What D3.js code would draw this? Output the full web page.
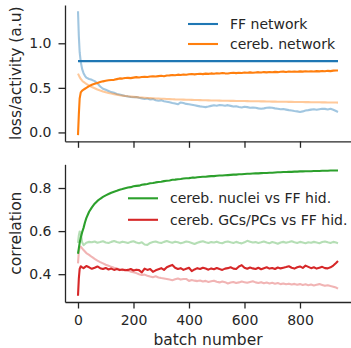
<!DOCTYPE html>
<html>
<head>
<meta charset="utf-8">
<script src="https://cdn.jsdelivr.net/npm/d3@7"></script>
<style>
  body { margin: 0; background: #fff; }
  svg { display: block; }
  text { font-family: "DejaVu Sans", sans-serif; fill: #262626; }
</style>
</head>
<body>
<svg id="chart" width="351" height="348"></svg>
<script>
// Training batches at which the curves were sampled
const batch = [
  0, 3, 6, 10, 15, 20, 25, 30,
  40, 50, 60, 70, 80, 90, 100, 110, 120, 130,
  140, 150, 160, 170, 180, 190, 200, 210, 220, 230,
  240, 250, 260, 270, 280, 290, 300, 310, 320, 330,
  340, 350, 360, 370, 380, 390, 400, 410, 420, 430,
  440, 450, 460, 470, 480, 490, 500, 510, 520, 530,
  540, 550, 560, 570, 580, 590, 600, 610, 620, 630,
  640, 650, 660, 670, 680, 690, 700, 710, 720, 730,
  740, 750, 760, 770, 780, 790, 800, 810, 820, 830,
  840, 850, 860, 870, 880, 890, 900, 910, 920, 930,
  937
];

// Loss / activity panel
const ffNetBatch = [0, 937];
const ffNet = [0.80, 0.80];

const ffLoss = [
  1.36, 1.08, 0.90, 0.79, 0.71, 0.665, 0.635, 0.615,
  0.600, 0.590, 0.575, 0.550, 0.515, 0.490, 0.478, 0.465, 0.452, 0.445,
  0.432, 0.425, 0.418, 0.408, 0.404, 0.398, 0.394, 0.398, 0.388, 0.382,
  0.376, 0.381, 0.370, 0.374, 0.362, 0.356, 0.360, 0.350, 0.344, 0.338,
  0.330, 0.324, 0.316, 0.336, 0.330, 0.320, 0.316, 0.310, 0.304, 0.298,
  0.292, 0.288, 0.284, 0.290, 0.298, 0.304, 0.300, 0.308, 0.304, 0.300,
  0.306, 0.298, 0.290, 0.294, 0.286, 0.280, 0.288, 0.284, 0.276, 0.280,
  0.276, 0.270, 0.266, 0.270, 0.276, 0.280, 0.276, 0.270, 0.266, 0.260,
  0.262, 0.256, 0.250, 0.246, 0.240, 0.236, 0.230, 0.236, 0.246, 0.250,
  0.256, 0.260, 0.254, 0.260, 0.266, 0.264, 0.258, 0.266, 0.254, 0.240,
  0.230
];

const cbLoss = [
  0.660, 0.640, 0.620, 0.600, 0.580, 0.566, 0.555, 0.545,
  0.526, 0.510, 0.496, 0.482, 0.470, 0.460, 0.451, 0.443, 0.436, 0.430,
  0.424, 0.418, 0.413, 0.409, 0.405, 0.402, 0.399, 0.396, 0.393, 0.391,
  0.389, 0.387, 0.385, 0.383, 0.381, 0.380, 0.378, 0.377, 0.375, 0.374,
  0.373, 0.371, 0.370, 0.369, 0.368, 0.367, 0.366, 0.365, 0.364, 0.363,
  0.362, 0.361, 0.361, 0.360, 0.359, 0.358, 0.358, 0.357, 0.356, 0.356,
  0.355, 0.354, 0.354, 0.353, 0.353, 0.352, 0.352, 0.351, 0.350, 0.350,
  0.349, 0.349, 0.348, 0.348, 0.347, 0.347, 0.346, 0.346, 0.345, 0.345,
  0.344, 0.344, 0.343, 0.343, 0.342, 0.342, 0.341, 0.341, 0.340, 0.340,
  0.339, 0.339, 0.338, 0.338, 0.337, 0.337, 0.336, 0.336, 0.335, 0.335,
  0.334
];

const cbNet = [
  -0.030, 0.200, 0.380, 0.450, 0.470, 0.480, 0.490, 0.500,
  0.520, 0.535, 0.545, 0.555, 0.565, 0.573, 0.580, 0.585, 0.588, 0.590,
  0.598, 0.606, 0.604, 0.610, 0.612, 0.609, 0.615, 0.620, 0.617, 0.621,
  0.625, 0.622, 0.628, 0.630, 0.627, 0.632, 0.635, 0.630, 0.638, 0.640,
  0.645, 0.642, 0.648, 0.645, 0.650, 0.647, 0.652, 0.655, 0.651, 0.656,
  0.658, 0.654, 0.660, 0.657, 0.662, 0.659, 0.664, 0.661, 0.666, 0.663,
  0.661, 0.667, 0.670, 0.665, 0.670, 0.667, 0.672, 0.669, 0.674, 0.670,
  0.673, 0.676, 0.672, 0.677, 0.674, 0.678, 0.675, 0.679, 0.676, 0.680,
  0.682, 0.678, 0.683, 0.680, 0.684, 0.681, 0.685, 0.682, 0.686, 0.683,
  0.687, 0.684, 0.688, 0.685, 0.690, 0.687, 0.691, 0.688, 0.693, 0.695,
  0.694
];

// Correlation panel
const nucCorr = [
  0.495, 0.520, 0.545, 0.570, 0.595, 0.615, 0.640, 0.660,
  0.690, 0.710, 0.727, 0.740, 0.750, 0.759, 0.766, 0.772, 0.778, 0.783,
  0.787, 0.792, 0.795, 0.799, 0.802, 0.804, 0.808, 0.810, 0.811, 0.815,
  0.817, 0.819, 0.822, 0.823, 0.826, 0.828, 0.829, 0.832, 0.834, 0.835,
  0.838, 0.839, 0.841, 0.842, 0.844, 0.845, 0.846, 0.848, 0.848, 0.850,
  0.851, 0.852, 0.852, 0.854, 0.855, 0.855, 0.857, 0.858, 0.858, 0.859,
  0.860, 0.861, 0.862, 0.862, 0.864, 0.864, 0.865, 0.866, 0.866, 0.867,
  0.868, 0.868, 0.869, 0.870, 0.870, 0.871, 0.871, 0.872, 0.873, 0.873,
  0.874, 0.874, 0.875, 0.875, 0.876, 0.876, 0.877, 0.877, 0.878, 0.878,
  0.878, 0.879, 0.879, 0.879, 0.880, 0.880, 0.880, 0.881, 0.881, 0.881,
  0.881
];

const nucBase = [
  0.545, 0.580, 0.598, 0.592, 0.548, 0.535, 0.540, 0.546,
  0.550, 0.548, 0.552, 0.546, 0.549, 0.553, 0.547, 0.545, 0.550, 0.554,
  0.549, 0.546, 0.551, 0.548, 0.545, 0.550, 0.553, 0.547, 0.544, 0.548,
  0.538, 0.536, 0.545, 0.549, 0.552, 0.547, 0.545, 0.550, 0.554, 0.549,
  0.546, 0.551, 0.548, 0.544, 0.547, 0.552, 0.549, 0.545, 0.540, 0.546,
  0.550, 0.553, 0.548, 0.545, 0.549, 0.547, 0.551, 0.546, 0.544, 0.549,
  0.552, 0.548, 0.545, 0.550, 0.546, 0.543, 0.548, 0.555, 0.551, 0.547,
  0.549, 0.545, 0.548, 0.552, 0.547, 0.544, 0.549, 0.546, 0.541, 0.547,
  0.550, 0.546, 0.549, 0.553, 0.548, 0.545, 0.550, 0.547, 0.544, 0.548,
  0.546, 0.550, 0.547, 0.544, 0.549, 0.552, 0.548, 0.545, 0.550, 0.547,
  0.544
];

const gcCorr = [
  0.300, 0.380, 0.425, 0.437, 0.432, 0.428, 0.433, 0.438,
  0.432, 0.425, 0.430, 0.436, 0.428, 0.424, 0.429, 0.422, 0.426, 0.420,
  0.424, 0.419, 0.422, 0.418, 0.420, 0.424, 0.417, 0.421, 0.419, 0.408,
  0.426, 0.420, 0.424, 0.411, 0.418, 0.423, 0.428, 0.420, 0.432, 0.438,
  0.443, 0.430, 0.424, 0.428, 0.420, 0.425, 0.430, 0.414, 0.422, 0.428,
  0.424, 0.430, 0.426, 0.421, 0.427, 0.423, 0.429, 0.424, 0.420, 0.426,
  0.428, 0.432, 0.426, 0.424, 0.436, 0.442, 0.430, 0.425, 0.431, 0.427,
  0.424, 0.430, 0.423, 0.428, 0.432, 0.426, 0.429, 0.424, 0.431, 0.427,
  0.430, 0.433, 0.437, 0.430, 0.426, 0.432, 0.436, 0.429, 0.440, 0.434,
  0.428, 0.432, 0.426, 0.430, 0.434, 0.428, 0.427, 0.432, 0.440, 0.452,
  0.461
];

const gcBase = [
  0.450, 0.505, 0.525, 0.528, 0.520, 0.512, 0.505, 0.498,
  0.490, 0.480, 0.471, 0.463, 0.456, 0.450, 0.444, 0.439, 0.434, 0.430,
  0.427, 0.422, 0.419, 0.421, 0.416, 0.412, 0.409, 0.405, 0.400, 0.396,
  0.398, 0.393, 0.389, 0.386, 0.390, 0.385, 0.382, 0.380, 0.378, 0.375,
  0.372, 0.376, 0.380, 0.375, 0.378, 0.378, 0.369, 0.373, 0.370, 0.368,
  0.371, 0.366, 0.369, 0.364, 0.367, 0.370, 0.365, 0.362, 0.366, 0.363,
  0.357, 0.361, 0.364, 0.359, 0.362, 0.366, 0.363, 0.360, 0.364, 0.367,
  0.362, 0.359, 0.363, 0.358, 0.361, 0.357, 0.360, 0.356, 0.359, 0.354,
  0.357, 0.353, 0.356, 0.352, 0.355, 0.351, 0.354, 0.350, 0.353, 0.349,
  0.352, 0.348, 0.351, 0.354, 0.350, 0.346, 0.349, 0.345, 0.342, 0.338,
  0.333
];

const xTicks = [0, 200, 400, 600, 800];
const lossTicks = [0.0, 0.5, 1.0];
const corrTicks = [0.4, 0.6, 0.8];

const C = {
  blue: "#1f77b4", orange: "#ff7f0e", green: "#2ca02c", red: "#d62728",
  ink: "#262626"
};

const svg = d3.select("#chart");
const left = 65, right = 351;
const tickLen = 6.5, tickPad = 7;

// matplotlib-style 5% margins around the data extent
function padded(ext) {
  const m = (ext[1] - ext[0]) * 0.05;
  return [ext[0] - m, ext[1] + m];
}

const x = d3.scaleLinear()
  .domain(padded(d3.extent(batch)))
  .range([left, right]);

function drawPanel(cfg) {
  const g = svg.append("g");
  const allVals = cfg.series.flatMap(s => s.values);
  const y = d3.scaleLinear()
    .domain(padded(d3.extent(allVals)))
    .range([cfg.bottom, cfg.top]);

  // Lines
  const line = d3.line().x(d => x(d[0])).y(d => y(d[1]));
  cfg.series.forEach(s => {
    const xs = s.batch || batch;
    g.append("path")
      .datum(xs.map((b, i) => [b, s.values[i]]))
      .attr("fill", "none")
      .attr("stroke", s.color)
      .attr("stroke-opacity", s.opacity || 1)
      .attr("stroke-width", 2.1)
      .attr("stroke-linejoin", "round")
      .attr("stroke-linecap", "butt")
      .attr("d", line);
  });

  // Axes (left and bottom spines only)
  const yAxis = d3.axisLeft(y).tickValues(cfg.yTicks).tickFormat(d3.format(".1f"))
    .tickSize(tickLen).tickSizeOuter(0).tickPadding(tickPad);
  const xAxis = d3.axisBottom(x).tickValues(xTicks).tickFormat(d3.format("d"))
    .tickSize(tickLen).tickSizeOuter(0).tickPadding(tickPad);

  const ya = g.append("g").attr("transform", `translate(${left},0)`).call(yAxis);
  const xa = g.append("g").attr("transform", `translate(0,${cfg.bottom})`).call(xAxis);
  [ya, xa].forEach(a => {
    a.select(".domain").attr("stroke", C.ink).attr("stroke-width", 1.3);
    a.selectAll(".tick line").attr("stroke", C.ink).attr("stroke-width", 1.3);
    a.selectAll(".tick text").attr("fill", C.ink).style("font-size", "14px")
      .style("font-family", '"DejaVu Sans", sans-serif');
  });
  if (!cfg.showXLabels) xa.selectAll(".tick text").remove();

  // Y label
  g.append("text")
    .attr("transform", `translate(21,${(cfg.top + cfg.bottom) / 2}) rotate(-90)`)
    .attr("text-anchor", "middle")
    .style("font-size", "15.5px")
    .text(cfg.yLabel);

  // Legend
  cfg.legend.items.forEach((it, i) => {
    const ly = cfg.legend.y + i * cfg.legend.step;
    g.append("line")
      .attr("x1", cfg.legend.x).attr("x2", cfg.legend.x + 30)
      .attr("y1", ly).attr("y2", ly)
      .attr("stroke", it.color).attr("stroke-width", 2.1);
    g.append("text")
      .attr("x", cfg.legend.x + 42).attr("y", ly).attr("dy", "0.36em")
      .style("font-size", "14px")
      .text(it.label);
  });
  return y;
}

drawPanel({
  top: 5, bottom: 141.3,
  yTicks: lossTicks, showXLabels: false,
  yLabel: "loss/activity (a.u)",
  series: [
    { values: ffLoss, color: C.blue, opacity: 0.42 },
    { values: cbLoss, color: C.orange, opacity: 0.42 },
    { values: ffNet, batch: ffNetBatch, color: C.blue },
    { values: cbNet, color: C.orange }
  ],
  legend: { x: 188, y: 24, step: 20, items: [
    { label: "FF network", color: C.blue },
    { label: "cereb. network", color: C.orange }
  ]}
});

drawPanel({
  top: 164.3, bottom: 302,
  yTicks: corrTicks, showXLabels: true,
  yLabel: "correlation",
  series: [
    { values: nucBase, color: C.green, opacity: 0.35 },
    { values: gcBase, color: C.red, opacity: 0.35 },
    { values: nucCorr, color: C.green },
    { values: gcCorr, color: C.red }
  ],
  legend: { x: 128, y: 198.3, step: 21.5, items: [
    { label: "cereb. nuclei vs FF hid.", color: C.green },
    { label: "cereb. GCs/PCs vs FF hid.", color: C.red }
  ]}
});

// X label
svg.append("text")
  .attr("x", (left + right) / 2).attr("y", 345)
  .attr("text-anchor", "middle")
  .style("font-size", "15.5px")
  .text("batch number");
</script>
</body>
</html>
